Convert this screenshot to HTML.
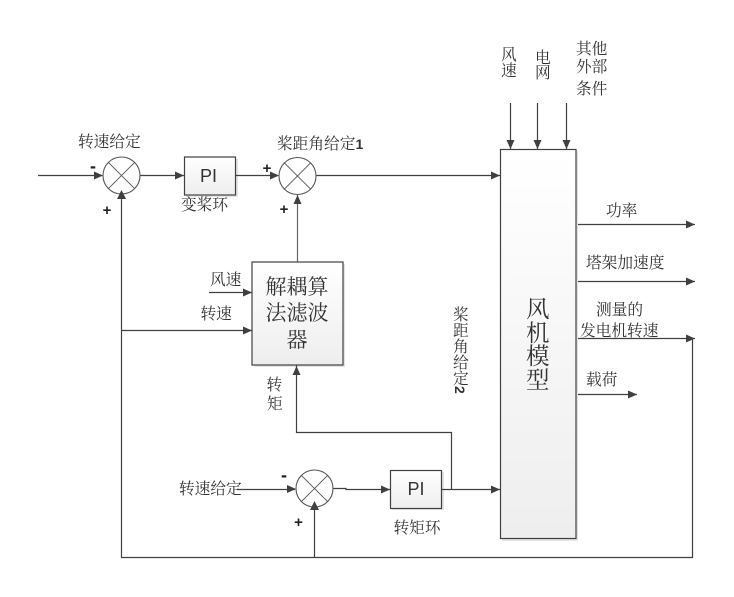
<!DOCTYPE html>
<html><head><meta charset="utf-8">
<style>
html,body{margin:0;padding:0;background:#fff;width:734px;height:597px;overflow:hidden}
svg{display:block}
text{font-family:"Liberation Serif","Noto Serif CJK SC",serif;fill:#333;font-size:15.700px}
.p{font-family:"Liberation Sans",sans-serif;font-weight:bold;font-size:15px;text-anchor:middle;fill:#222}
.l{stroke:#404040;stroke-width:1.2;fill:none}
.c{stroke:#555;stroke-width:1.1;fill:#fff}
.x{stroke:#555;stroke-width:.9}
.b{stroke:#404040;stroke-width:1.2;fill:url(#g)}
.s{fill:#e4e4e4}
.a{fill:#404040}
</style></head><body>
<svg width="734" height="597" viewBox="0 0 734 597" xmlns="http://www.w3.org/2000/svg">
<defs><linearGradient id="g" x1="0" y1="0" x2="0" y2="1"><stop offset="0" stop-color="#ffffff"/><stop offset="1" stop-color="#eeeeee"/></linearGradient></defs>

<!-- shadows -->
<rect class="s" x="186" y="159" width="52" height="38"/>
<rect class="s" x="254" y="264" width="91" height="103"/>
<rect class="s" x="392" y="472" width="52" height="38"/>
<rect class="s" x="502" y="151" width="76" height="390"/>

<!-- lines -->
<path class="l" d="M38 175.500H102"/>
<path class="l" d="M140 175.500H184"/>
<path class="l" d="M236 175.500H278"/>
<path class="l" d="M316 175.500H500"/>
<path class="l" d="M121.500 194V557.500H692.500V338"/>
<path class="l" d="M121.500 330.500H252"/>
<path class="l" d="M209 292.500H252"/>
<path class="l" style="stroke:#666" d="M297.500 262V195"/>
<path class="l" d="M296.500 365V432.500H451.500V489"/>
<path class="l" d="M237 489.500H295"/>
<path class="l" d="M333 488.500H346V489.500H390"/>
<path class="l" d="M442 489.500H500"/>
<path class="l" d="M314.500 557V507"/>
<path class="l" d="M510.500 103V149M537.500 103V149M566.500 103V149"/>
<path class="l" d="M578 224.500H695M578 281.500H695M578 338.500H695M578 394.500H637"/>

<!-- boxes -->
<rect class="b" x="184.500" y="157" width="51" height="38"/>
<rect class="b" x="252" y="262" width="91" height="103"/>
<rect class="b" x="390.500" y="470.500" width="51" height="38"/>
<rect class="b" x="500.500" y="149.500" width="75.500" height="389"/>

<!-- circles -->
<g><circle class="c" cx="121.500" cy="175.500" r="18.500"/><path class="x" d="M108.400 162.400L134.600 188.600M134.600 162.400L108.400 188.600"/></g>
<g><circle class="c" cx="297.500" cy="176" r="18.500"/><path class="x" d="M284.400 162.900L310.600 189.100M310.600 162.900L284.400 189.100"/></g>
<g><circle class="c" cx="314.500" cy="488.500" r="18.500"/><path class="x" d="M301.400 475.400L327.600 501.600M327.600 475.400L301.400 501.600"/></g>

<!-- arrowheads -->
<path class="a" d="M103 175.500l-9-4v8z"/>
<path class="a" d="M184 175.500l-9-4v8z"/>
<path class="a" d="M279 175.500l-9-4v8z"/>
<path class="a" d="M500 175.500l-9-4v8z"/>
<path class="a" d="M121.500 190l-4.500 9h9z"/>
<path class="a" d="M297.500 195l-4 9h8z"/>
<path class="a" d="M252 292.500l-9-4v8z"/>
<path class="a" d="M252 330.500l-9-4v8z"/>
<path class="a" d="M296.500 366l-4 9h8z"/>
<path class="a" d="M296 489l-9-4v8z"/>
<path class="a" d="M390 489.500l-9-4v8z"/>
<path class="a" d="M500 489.500l-9-4v8z"/>
<path class="a" d="M314.500 501l-4.500 9h9z"/>
<path class="a" d="M510.500 149l-4-9h8z"/>
<path class="a" d="M537.500 149l-4-9h8z"/>
<path class="a" d="M566.500 149l-4-9h8z"/>
<path class="a" d="M695 224.500l-9-4v8z"/>
<path class="a" d="M695 281.500l-9-4v8z"/>
<path class="a" d="M695 338.500l-9-4v8z"/>
<path class="a" d="M637 394.500l-9-4v8z"/>

<!-- labels -->
<text x="78" y="147">转速给定</text>
<text x="277" y="149">桨距角给定<tspan style="font-family:'Liberation Sans',sans-serif;font-weight:bold;font-size:14px">1</tspan></text>
<text x="181" y="210">变桨环</text>
<text x="179" y="494">转速给定</text>
<text x="210" y="285">风速</text>
<text x="200.500" y="319">转速</text>
<text x="393.500" y="533">转矩环</text>
<text x="266.500" y="390">转</text>
<text x="267" y="409">矩</text>
<text x="606" y="216">功率</text>
<text x="586" y="268">塔架加速度</text>
<text x="596" y="315">测量的</text>
<text x="580" y="336">发电机转速</text>
<text x="586" y="385">载荷</text>
<text x="501" y="60">风</text>
<text x="501" y="76">速</text>
<text x="535" y="63">电</text>
<text x="535" y="78">网</text>
<text x="576" y="54">其他</text>
<text x="576" y="72">外部</text>
<text x="576" y="94">条件</text>
<text x="453" y="320">桨</text>
<text x="453" y="336">距</text>
<text x="453" y="352">角</text>
<text x="453" y="368">给</text>
<text x="453" y="384">定</text>
<text transform="translate(455,386) rotate(90)" style="font-family:'Liberation Sans',sans-serif;font-size:14px;font-weight:bold">2</text>
<text x="297" y="294" style="font-size:21px" text-anchor="middle">解耦算</text>
<text x="297" y="320" style="font-size:21px" text-anchor="middle">法滤波</text>
<text x="297" y="347" style="font-size:21px" text-anchor="middle">器</text>
<text x="208.500" y="182" style="font-family:'Liberation Sans',sans-serif;font-size:18px" text-anchor="middle">PI</text>
<text x="416" y="495" style="font-family:'Liberation Sans',sans-serif;font-size:18px" text-anchor="middle">PI</text>
<text x="526" y="317" style="font-size:23.500px">风</text>
<text x="526" y="341" style="font-size:23.500px">机</text>
<text x="526" y="364" style="font-size:23.500px">模</text>
<text x="526" y="388" style="font-size:23.500px">型</text>
<text class="p" x="93" y="172" style="font-size:18px">-</text>
<text class="p" x="107" y="215">+</text>
<text class="p" x="267" y="173">+</text>
<text class="p" x="284" y="214">+</text>
<text class="p" x="284" y="481" style="font-size:18px">-</text>
<text class="p" x="298.500" y="527">+</text>
</svg>
</body></html>
